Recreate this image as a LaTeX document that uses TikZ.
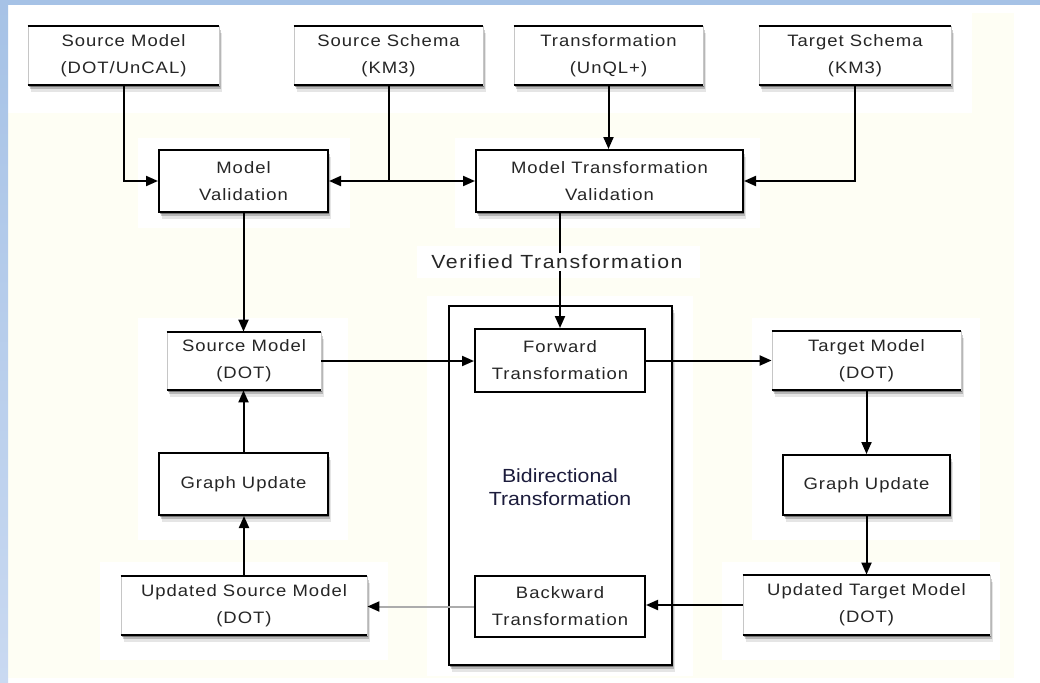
\documentclass[tikz,border=0pt]{standalone}
\usepackage{fontspec}
\setmainfont{Liberation Sans}[FakeStretch=1.12]
\newfontfamily\boxfont{Liberation Sans}[FakeStretch=1.12,LetterSpace=6]
\newfontfamily\labfont{Liberation Sans}[FakeStretch=1.12,LetterSpace=8]
\usetikzlibrary{arrows.meta,shadows}
\definecolor{cream}{HTML}{FEFEF4}
\definecolor{bandblue}{HTML}{A6C2E6}
\definecolor{bandlight}{HTML}{C9D9F1}
\definecolor{bidi}{HTML}{1C1C3C}
\begin{document}
\begin{tikzpicture}[x=1pt,y=-1pt,
  softshadow/.style={
    drop shadow={shadow xshift=1pt,shadow yshift=-2pt,opacity=.35,fill=black},
    drop shadow={shadow xshift=2pt,shadow yshift=-4pt,opacity=.2,fill=black},
    drop shadow={shadow xshift=3pt,shadow yshift=-7pt,opacity=.1,fill=black}},
  basebox/.style={rectangle,inner sep=0pt,align=center,fill=white,text=black!85,
    font=\boxfont\fontsize{16.5}{27}\selectfont},
  obox/.style={basebox,draw=gray!45,line width=0.8pt,softshadow},
  fbox/.style={basebox,draw=black,line width=2pt,softshadow},
  ibox/.style={basebox,draw=black,line width=2pt},
  ln/.style={line width=2pt},
  arr/.style={line width=2pt,-{Triangle[length=12pt,width=10pt]}},
]
\useasboundingbox (0,0) rectangle (1040,682);
% backgrounds
\fill[white] (0,0) rectangle (1040,682);
\fill[cream] (8,113) rectangle (1014,678);
\fill[cream] (972,13) rectangle (1014,113);
\fill[white] (138,138) rectangle (350,228);
\fill[white] (455,138) rectangle (760,228);
\fill[white] (417,246) rectangle (700,278);
\fill[white] (138,318) rectangle (348,540);
\fill[white] (100,562) rectangle (388,660);
\fill[white] (427,296) rectangle (693,676);
\fill[white] (752,318) rectangle (980,540);
\fill[white] (722,562) rectangle (1000,660);
\shade[top color=bandblue,bottom color=bandlight] (0,0) rectangle (8,682);
\fill[bandblue] (0,0) rectangle (1040,5);

% bidirectional container
\node[fbox,minimum width=223pt,minimum height=359pt] (bd) at (560.5,485.5) {};
\node[font=\fontsize{19}{23}\selectfont,text=bidi,align=center] (bdl) at (560,487) {Bidirectional\\Transformation};
\node[ibox,minimum width=170pt,minimum height=63pt] (fw) at (560,360.5) {Forward\\Transformation};
\node[ibox,minimum width=170pt,minimum height=61pt] (bw) at (560,606.5) {Backward\\Transformation};

% top row
\node[obox,minimum width=191pt,minimum height=59pt] (sm0) at (123.5,55.5) {Source Model\\(DOT/UnCAL)};
\node[obox,minimum width=189pt,minimum height=59pt] (ss) at (388.5,55.5) {Source Schema\\(KM3)};
\node[obox,minimum width=189pt,minimum height=59pt] (tr) at (608.5,55.5) {Transformation\\(UnQL+)};
\node[obox,minimum width=192pt,minimum height=59pt] (ts) at (855,55.5) {Target Schema\\(KM3)};

% validation row
\node[fbox,minimum width=169pt,minimum height=62pt] (mv) at (243.5,181) {Model\\Validation};
\node[fbox,minimum width=267pt,minimum height=62pt] (mtv) at (609.5,181) {Model Transformation\\Validation};

\node[fill=white,inner sep=2pt,text=black!85,font=\labfont\fontsize{19}{23}\selectfont] (vt) at (557,262) {Verified Transformation};

% left column
\node[obox,minimum width=154pt,minimum height=58pt] (smd) at (244,361) {Source Model\\(DOT)};
\node[fbox,minimum width=169pt,minimum height=62pt] (gu1) at (243.5,484) {Graph Update};
\node[obox,minimum width=246pt,minimum height=59pt] (usm) at (244,605.5) {Updated Source Model\\(DOT)};

% right column
\node[obox,minimum width=189pt,minimum height=59pt] (tm) at (866.5,360.5) {Target Model\\(DOT)};
\node[fbox,minimum width=167pt,minimum height=60pt] (gu2) at (866.5,485) {Graph Update};
\node[obox,minimum width=247pt,minimum height=60pt] (utm) at (866.5,605) {Updated Target Model\\(DOT)};

% top and bottom rules of open boxes
\foreach \n in {sm0,ss,tr,ts,smd,usm,tm,utm}
  \draw[line width=2pt] (\n.north west) -- (\n.north east) (\n.south west) -- (\n.south east);

% connectors
\draw[arr] (sm0.south) |- (mv.west);
\draw[ln] (ss.south) -- (ss.south |- mv.west) coordinate (j);
\draw[arr] (j) -- (mv.east);
\draw[arr] (j) -- (mtv.west);
\draw[arr] (tr.south) -- (tr.south |- mtv.north);
\draw[arr] (ts.south) |- (mtv.east);
\draw[ln] (mtv.south -| fw.north) -- (vt.north -| fw.north);
\draw[arr] (vt.south -| fw.north) -- (fw.north);
\draw[arr] (mv.south) -- (mv.south |- smd.north);
\draw[arr] (gu1.north) -- (gu1.north |- smd.south);
\draw[arr] (usm.north) -- (usm.north |- gu1.south);
\draw[arr] (smd.east) -- (smd.east -| fw.west);
\draw[arr] (fw.east) -- (fw.east -| tm.west);
\draw[arr] (tm.south) -- (gu2.north);
\draw[arr] (gu2.south) -- (utm.north);
\draw[arr] (utm.west) -- (utm.west -| bw.east);
\draw[line width=2pt,draw=gray!65,-{Triangle[length=12pt,width=10pt,color=black]}] (bw.west) -- (bw.west -| usm.east);
\end{tikzpicture}
\end{document}
